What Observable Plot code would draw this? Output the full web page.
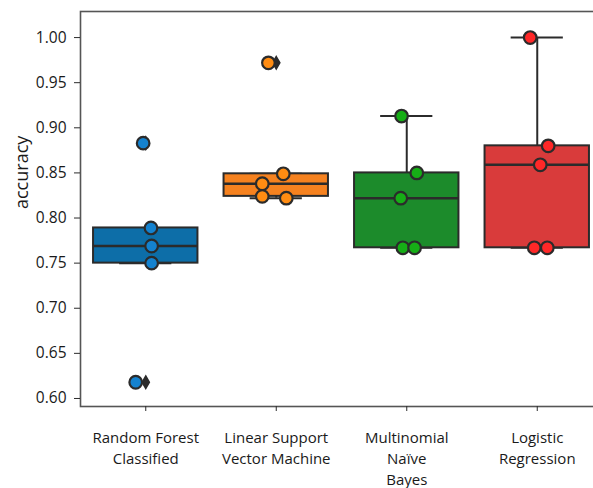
<!DOCTYPE html>
<html>
<head>
<meta charset="utf-8">
<script src="https://cdn.jsdelivr.net/npm/d3@7"></script>
<script src="https://cdn.jsdelivr.net/npm/@observablehq/plot@0.6"></script>
<style>
  html, body { margin: 0; padding: 0; background: white; overflow: hidden; }
  #wrap { width: 603px; height: 488px; overflow: hidden; }
</style>
</head>
<body>
<div id="wrap"></div>
<script>
// Categories (x tick labels)
const categories = ["Random Forest\nClassified", "Linear Support\nVector Machine", "Multinomial\nNaïve\nBayes", "Logistic\nRegression"];
// Accuracy values per model
const randomForest = [0.883, 0.789, 0.769, 0.750, 0.618];
const linearSVM = [0.972, 0.849, 0.838, 0.824, 0.822];
const multinomialNB = [0.913, 0.850, 0.822, 0.767, 0.767];
const logisticReg = [1.000, 0.880, 0.859, 0.767, 0.767];
// Strip-plot jitter (in category units)
const jitterRF = [-0.02, 0.04, 0.045, 0.045, -0.077];
const jitterSVM = [-0.06, 0.054, -0.107, -0.107, 0.077];
const jitterNB = [-0.04, 0.077, -0.046, -0.03, 0.06];
const jitterLR = [-0.054, 0.084, 0.023, -0.023, 0.077];
// y tick labels
const yTicks = [0.60, 0.65, 0.70, 0.75, 0.80, 0.85, 0.90, 0.95, 1.00];
// colours
const boxColors = ["#0d6ea8", "#f6821f", "#1c8b2b", "#d93b3b"];
const dotColors = ["#1482cf", "#ff8c12", "#16ae16", "#ff2828"];

const series = [randomForest, linearSVM, multinomialNB, logisticReg];
const jitters = [jitterRF, jitterSVM, jitterNB, jitterLR];

const points = series.flatMap((vals, i) => vals.map((v, j) => ({i, v, x: i + jitters[i][j]})));

const stats = series.map((vals, i) => {
  const s = vals.slice().sort(d3.ascending);
  const q1 = d3.quantile(s, 0.25), med = d3.quantile(s, 0.5), q3 = d3.quantile(s, 0.75);
  const iqr = q3 - q1;
  const lo = d3.min(s.filter(v => v >= q1 - 1.5 * iqr));
  const hi = d3.max(s.filter(v => v <= q3 + 1.5 * iqr));
  const fliers = s.filter(v => v < lo || v > hi);
  return {i, q1, med, q3, lo, hi, fliers};
});
const fliers = stats.flatMap(s => s.fliers.map(v => ({i: s.i, v})));

const ink = "#2b2b2b";
const plot = Plot.plot({
  width: 603,
  height: 488,
  marginLeft: 80,
  marginRight: 1,
  marginTop: 11,
  marginBottom: 82,
  style: {fontFamily: "'Open Sans', sans-serif", color: "#1a1a1a", background: "white"},
  x: {type: "linear", domain: [-0.5, 3.5], axis: null, label: null},
  y: {domain: [0.5911, 1.0289], axis: null, label: null},
  marks: [
    Plot.frame({stroke: "#555", strokeWidth: 1.6}),
    // whiskers
    Plot.ruleX(stats, {x: "i", y1: "lo", y2: "q1", stroke: ink, strokeWidth: 2}),
    Plot.ruleX(stats, {x: "i", y1: "q3", y2: "hi", stroke: ink, strokeWidth: 2}),
    // caps
    Plot.ruleY(stats, {y: "lo", x1: d => d.i - 0.2, x2: d => d.i + 0.2, stroke: ink, strokeWidth: 2}),
    Plot.ruleY(stats, {y: "hi", x1: d => d.i - 0.2, x2: d => d.i + 0.2, stroke: ink, strokeWidth: 2}),
    // boxes
    Plot.rect(stats, {x1: d => d.i - 0.4, x2: d => d.i + 0.4, y1: "q1", y2: "q3", fill: d => boxColors[d.i], stroke: ink, strokeWidth: 2}),
    // medians
    Plot.ruleY(stats, {y: "med", x1: d => d.i - 0.4, x2: d => d.i + 0.4, stroke: ink, strokeWidth: 2.5}),
    // fliers
    Plot.dot(fliers, {x: "i", y: "v", symbol: "diamond", r: 3.8, fill: ink, stroke: ink}),
    // strip points
    Plot.dot(points, {x: "x", y: "v", r: 6.3, fill: d => dotColors[d.i], stroke: ink, strokeWidth: 2.2}),
    // axes
    Plot.axisY({ticks: yTicks, tickFormat: d3.format(".2f"), tickSize: 6, tickPadding: 8, fontSize: 15.5, label: null, stroke: ink}),
    Plot.axisX({ticks: [0, 1, 2, 3], tickFormat: () => "", tickSize: 5, label: null, stroke: ink}),
    Plot.text(categories, {x: (d, i) => i, text: d => d, frameAnchor: "bottom", dy: 22, lineAnchor: "top", lineHeight: 1.4, fontSize: 15, fill: "#1a1a1a"}),
    Plot.text(["accuracy"], {frameAnchor: "left", rotate: -90, dx: -58, text: d => d, fontSize: 18, fill: "#1a1a1a"})
  ]
});
document.getElementById("wrap").appendChild(plot);
</script>
</body>
</html>
